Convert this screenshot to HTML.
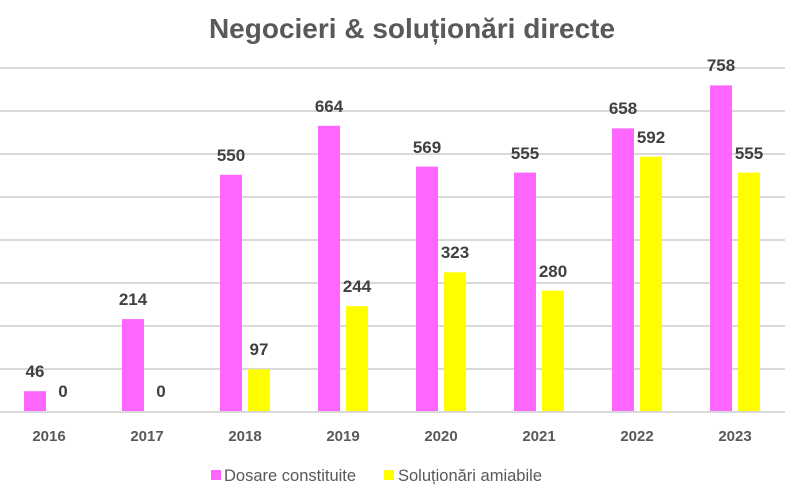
<!DOCTYPE html>
<html><head><meta charset="utf-8"><style>
body{margin:0;background:#fff;}
svg{display:block;font-family:"Liberation Sans",Calibri,sans-serif;}
</style></head><body>
<svg width="785" height="493" xmlns="http://www.w3.org/2000/svg">
<rect width="785" height="493" fill="#fff"/>
<text x="412" y="38" text-anchor="middle" font-size="28" font-weight="bold" fill="#595959">Negocieri &amp; soluționări directe</text>
<g stroke="#d9d9d9" stroke-width="2">
<line x1="0" x2="785" y1="68" y2="68"/><line x1="0" x2="785" y1="111" y2="111"/>
<line x1="0" x2="785" y1="154" y2="154"/><line x1="0" x2="785" y1="197" y2="197"/>
<line x1="0" x2="785" y1="240" y2="240"/><line x1="0" x2="785" y1="283" y2="283"/>
<line x1="0" x2="785" y1="326" y2="326"/><line x1="0" x2="785" y1="369" y2="369"/>
<line x1="0" x2="785" y1="412" y2="412"/>
</g>
<g fill="#ff66ff">
<rect x="24" y="391.2" width="22" height="19.8"/>
<rect x="122" y="319.1" width="22" height="91.9"/>
<rect x="220" y="174.8" width="22" height="236.2"/>
<rect x="318" y="125.8" width="22" height="285.2"/>
<rect x="416" y="166.6" width="22" height="244.4"/>
<rect x="514" y="172.6" width="22" height="238.4"/>
<rect x="612" y="128.4" width="22" height="282.6"/>
<rect x="710" y="85.4" width="22" height="325.6"/>
</g>
<g fill="#ffff00">
<rect x="248" y="369.3" width="22" height="41.7"/>
<rect x="346" y="306.2" width="22" height="104.8"/>
<rect x="444" y="272.3" width="22" height="138.7"/>
<rect x="542" y="290.7" width="22" height="120.3"/>
<rect x="640" y="156.7" width="22" height="254.3"/>
<rect x="738" y="172.6" width="22" height="238.4"/>
</g>
<g font-size="17" font-weight="bold" fill="#404040" text-anchor="middle">
<text x="35" y="377">46</text><text x="63" y="397">0</text>
<text x="133" y="305">214</text><text x="161" y="397">0</text>
<text x="231" y="161">550</text><text x="259" y="355">97</text>
<text x="329" y="112">664</text><text x="357" y="292">244</text>
<text x="427" y="153">569</text><text x="455" y="258">323</text>
<text x="525" y="159">555</text><text x="553" y="277">280</text>
<text x="623" y="114">658</text><text x="651" y="143">592</text>
<text x="721" y="71">758</text><text x="749" y="159">555</text>
</g>
<g font-size="15" font-weight="bold" fill="#595959" text-anchor="middle">
<text x="49" y="441">2016</text><text x="147" y="441">2017</text>
<text x="245" y="441">2018</text><text x="343" y="441">2019</text>
<text x="441" y="441">2020</text><text x="539" y="441">2021</text>
<text x="637" y="441">2022</text><text x="735" y="441">2023</text>
</g>
<g font-size="16.5" fill="#595959">
<rect x="211" y="470" width="10" height="10" fill="#ff66ff"/>
<text x="224" y="481">Dosare constituite</text>
<rect x="384" y="470" width="10" height="10" fill="#ffff00"/>
<text x="398" y="481">Soluționări amiabile</text>
</g>
</svg>
</body></html>
